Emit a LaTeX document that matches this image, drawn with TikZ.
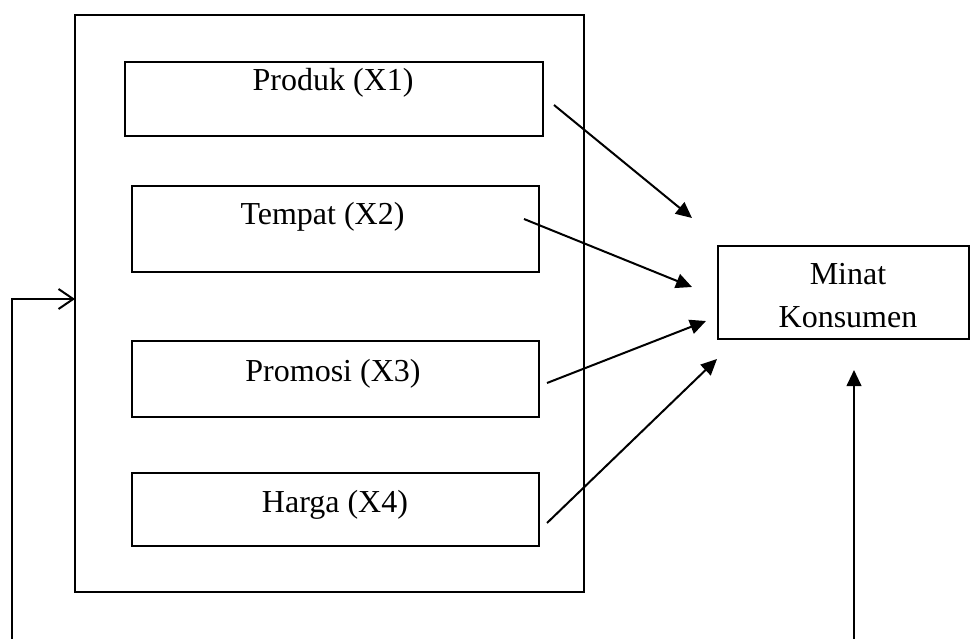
\documentclass[tikz,border=0pt]{standalone}
\usepackage{fontspec}
\setmainfont{Liberation Serif}
\usetikzlibrary{positioning, arrows.meta}

\tikzset{
  varbox/.style={draw, line width=1.2pt, inner sep=0pt},
  lbl/.style={font=\fontsize{24}{32}\selectfont, inner sep=0pt},
  arr/.style={line width=1.5pt, -{Triangle[length=12pt,width=11pt]}},
}

\begin{document}
\begin{tikzpicture}[x=0.75pt, y=-0.75pt]
        \useasboundingbox (0,0) rectangle (971,639);
        % outer frame
        \node[varbox, minimum width=381.75pt, minimum height=432.75pt] (outer) at (329.5,303.5) {};
        % variable boxes
        \node[varbox, minimum width=313.5pt, minimum height=55.5pt] (x1) at (334,99) {};
        \node[varbox, minimum width=305.25pt, minimum height=64.5pt] (x2) at (335.5,229) {};
        \node[varbox, minimum width=305.25pt, minimum height=57pt] (x3) at (335.5,379) {};
        \node[varbox, minimum width=305.25pt, minimum height=54.75pt] (x4) at (335.5,509.5) {};
        \node[lbl] (t1) at (333,83) {Produk (X1)};
        \node[lbl] (t2) at (322.5,216.5) {Tempat (X2)};
        \node[lbl] (t3) at (333,373.5) {Promosi (X3)};
        \node[lbl] (t4) at (335,505) {Harga (X4)};
        % dependent variable
        \node[varbox, minimum width=188.25pt, minimum height=69.75pt] (y) at (843.5,292.5) {};
        \node[lbl, align=center] (ty) at (848,295.5) {Minat\\Konsumen};

        % arrow ends
        \coordinate (s1) at (554,105);  \coordinate (e1) at (692,218);
        \coordinate (s2) at (524,219);  \coordinate (e2) at (692,287);
        \coordinate (s3) at (547,383);  \coordinate (e3) at (706,321);
        \coordinate (s4) at (547,523);  \coordinate (e4) at (717,359);
        \coordinate (fb) at (12,639);   \coordinate (fe) at (75,299);
        \coordinate (rb) at (854,639);  \coordinate (re) at (854,370);

        \draw[arr] (s1)--(e1);
        \draw[arr] (s2)--(e2);
        \draw[arr] (s3)--(e3);
        \draw[arr] (s4)--(e4);
        \draw[line width=1.5pt, -{Straight Barb[length=11pt,width=15pt]}] (fb) |- (fe);
        \draw[arr] (rb)--(re);
\end{tikzpicture}
\end{document}
